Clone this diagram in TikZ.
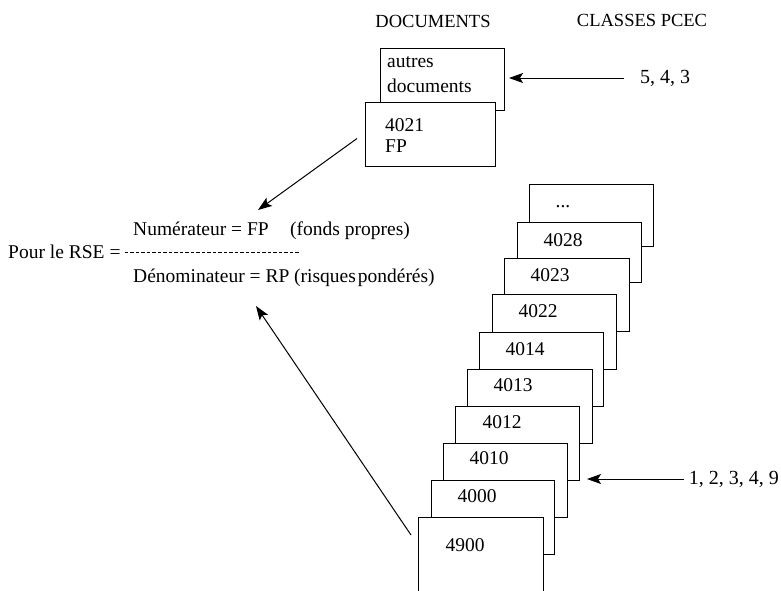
\documentclass[tikz,border=0pt]{standalone}
\usepackage{fontspec}
\setmainfont{Liberation Serif}
\usetikzlibrary{arrows.meta}
\begin{document}
\begin{tikzpicture}[x=1pt,y=-1pt,
  docbox/.style={draw=black, fill=white, line width=1pt, rectangle, anchor=north west, inner sep=0pt},
  lbl/.style={font=\fontsize{18.5}{22}\selectfont, inner sep=0pt},
  fmlbl/.style={font=\fontsize{19.5}{23}\selectfont, inner sep=0pt},
  boxlbl/.style={font=\fontsize{19.5}{23}\selectfont, inner sep=0pt},
  sidelbl/.style={font=\fontsize{20}{24}\selectfont, inner sep=0pt},
  arr/.style={-{Stealth[length=14pt,width=10pt,inset=3pt]}, line width=1pt},
]
\useasboundingbox (0,0) rectangle (781,590);
\clip (0,0) rectangle (781,590);

% headings
\node[lbl] (hdoc) at (433,21) {DOCUMENTS};
\node[lbl] (hcls) at (642,20) {CLASSES PCEC};

% document boxes
\node[docbox, minimum width=124pt, minimum height=62pt] (autres) at (380,48) {};
\node[boxlbl, anchor=base west] (lautres1) at (387,67) {autres};
\node[boxlbl, anchor=base west] (lautres2) at (387,92) {documents};
\node[docbox, minimum width=130pt, minimum height=64pt] (fp) at (365,102) {};
\node[boxlbl, anchor=base west] (lfp1) at (385,131) {4021};
\node[boxlbl, anchor=base west] (lfp2) at (385,152) {FP};

% stack of classes
\node[docbox, minimum width=124pt, minimum height=62pt] (bdots) at (529,184) {};
\node[boxlbl] (ldots) at ([xshift=34pt,yshift=-23pt]bdots.north west) {...};
\node[docbox, minimum width=124pt, minimum height=60pt] (b4028) at (517,222) {};
\node[boxlbl] (l4028) at ([xshift=46pt,yshift=-18pt]b4028.north west) {4028};
\node[docbox, minimum width=125pt, minimum height=73pt] (b4023) at (504,258) {};
\node[boxlbl] (l4023) at ([xshift=46pt,yshift=-17pt]b4023.north west) {4023};
\node[docbox, minimum width=124pt, minimum height=75pt] (b4022) at (492,294) {};
\node[boxlbl] (l4022) at ([xshift=46pt,yshift=-17pt]b4022.north west) {4022};
\node[docbox, minimum width=124pt, minimum height=74pt] (b4014) at (479,332) {};
\node[boxlbl] (l4014) at ([xshift=46pt,yshift=-17pt]b4014.north west) {4014};
\node[docbox, minimum width=125pt, minimum height=74pt] (b4013) at (467,369) {};
\node[boxlbl] (l4013) at ([xshift=46pt,yshift=-16pt]b4013.north west) {4013};
\node[docbox, minimum width=124pt, minimum height=74pt] (b4012) at (455,406) {};
\node[boxlbl] (l4012) at ([xshift=47pt,yshift=-16pt]b4012.north west) {4012};
\node[docbox, minimum width=124pt, minimum height=74pt] (b4010) at (443,443) {};
\node[boxlbl] (l4010) at ([xshift=46pt,yshift=-15pt]b4010.north west) {4010};
\node[docbox, minimum width=123pt, minimum height=74pt] (b4000) at (431,480) {};
\node[boxlbl] (l4000) at ([xshift=46pt,yshift=-16pt]b4000.north west) {4000};
\node[docbox, minimum width=125pt, minimum height=90pt] (b4900) at (418,517) {};
\node[boxlbl] (l4900) at ([xshift=47pt,yshift=-28pt]b4900.north west) {4900};

% formula
\node[fmlbl, anchor=base west] (pour) at (8,258) {Pour le RSE =};
\node[fmlbl, anchor=base west] (num) at (133,235) {Numérateur = FP};
\node[fmlbl, anchor=base west] (fonds) at (290,235) {(fonds propres)};
\node[fmlbl, anchor=base west] (den) at (133,282) {Dénominateur = RP (risques\hspace{-3pt} pondérés)};
\draw[dash pattern=on 3.5pt off 2pt, line width=0.7pt] ([xshift=4pt,yshift=-1pt]pour.east) -- ([xshift=10pt,yshift=-1pt]pour.east -| fonds.west);

% side labels and arrows
\node[sidelbl, anchor=west] (t543) at (640,78) {5, 4, 3};
\coordinate (tip543) at (509,78);
\draw[arr] ([xshift=-16pt]t543.west) -- (tip543);

\node[sidelbl, anchor=east] (t12349) at (779,479) {1, 2, 3, 4, 9};
\coordinate (tip12349) at (587,479);
\draw[arr] ([xshift=-5pt]t12349.west) -- (tip12349);

\coordinate (fpstart) at ([xshift=-8pt,yshift=-4pt]fp.west);
\coordinate (numtip) at (258,210);
\draw[arr] (fpstart) -- (numtip);

\coordinate (b4900start) at ([xshift=-7pt,yshift=-18pt]b4900.north west);
\coordinate (dentip) at (256,306);
\draw[arr] (b4900start) -- (dentip);
\end{tikzpicture}
\end{document}
